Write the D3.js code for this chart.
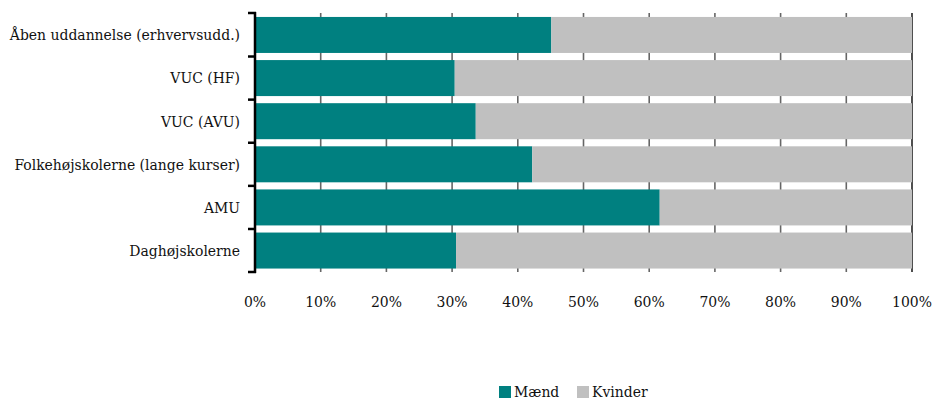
<!DOCTYPE html>
<html>
<head>
<meta charset="utf-8">
<script src="https://cdn.jsdelivr.net/npm/d3@7"></script>
<style>
  body { margin: 0; background: #fff; }
</style>
</head>
<body>
<div id="chart"></div>
<script>
// categories top to bottom
var categories = ["Åben uddannelse (erhvervsudd.)", "VUC (HF)", "VUC (AVU)",
    "Folkehøjskolerne (lange kurser)", "AMU", "Daghøjskolerne"];
// share of men in percent, women is the rest
var maend = [45.1, 30.4, 33.6, 42.2, 61.6, 30.6];
var kvinder = maend.map(function(d) { return 100 - d; });
var seriesNames = ["Mænd", "Kvinder"];
var tickValues = [0, 10, 20, 30, 40, 50, 60, 70, 80, 90, 100];

var colors = { "Mænd": "#008080", "Kvinder": "#c0c0c0" };
var font = "'DejaVu Serif Condensed', 'DejaVu Serif', serif";
var fs = "15.5px";

var width = 936, height = 400;
var svg = d3.select("#chart").append("svg")
    .attr("width", width)
    .attr("height", height)
    .style("font-family", font)
    .style("font-stretch", "condensed");

var x = d3.scaleLinear().domain([0, 100]).range([255, 912]);
var y = d3.scaleBand().domain(categories).range([13.5, 272]).paddingInner(0.165).paddingOuter(0.08);

var rows = categories.map(function(c, i) {
    return { cat: c, "Mænd": maend[i], "Kvinder": kvinder[i] };
});
var stacked = d3.stack().keys(seriesNames)(rows);

// gridlines behind the bars
svg.append("g").selectAll("line")
    .data(tickValues.slice(1))
    .enter().append("line")
    .attr("x1", function(d) { return x(d); })
    .attr("x2", function(d) { return x(d); })
    .attr("y1", 13)
    .attr("y2", 272)
    .attr("stroke", function(d) { return d == 100 ? "#222" : "#666"; })
    .attr("stroke-width", 1.6);

// bars
svg.append("g").selectAll("g")
    .data(stacked)
    .enter().append("g")
    .attr("fill", function(d) { return colors[d.key]; })
    .selectAll("rect")
    .data(function(d) { return d; })
    .enter().append("rect")
    .attr("x", function(d) { return x(d[0]); })
    .attr("width", function(d) { return x(d[1]) - x(d[0]); })
    .attr("y", function(d) { return y(d.data.cat); })
    .attr("height", y.bandwidth());

// y axis with ticks between categories
var step = y.step();
var bounds = [13];
categories.forEach(function(c) {
    bounds.push(y(c) + y.bandwidth() + (step - y.bandwidth()) / 2);
});
bounds[bounds.length - 1] = 272;

var yax = svg.append("g");
yax.append("line")
    .attr("x1", 255).attr("x2", 255)
    .attr("y1", 12).attr("y2", 273)
    .attr("stroke", "#000").attr("stroke-width", 2.5);
yax.selectAll(".tk")
    .data(bounds)
    .enter().append("line")
    .attr("x1", 248).attr("x2", 256)
    .attr("y1", function(d) { return d; })
    .attr("y2", function(d) { return d; })
    .attr("stroke", "#000").attr("stroke-width", 2.5);

svg.append("g").selectAll("text")
    .data(categories)
    .enter().append("text")
    .attr("x", 240)
    .attr("y", function(d) { return y(d) + y.bandwidth() / 2; })
    .attr("dy", "0.35em")
    .attr("text-anchor", "end")
    .attr("fill", "#111")
    .style("font-size", fs)
    .text(function(d) { return d; });

// x tick labels
svg.append("g").selectAll("text")
    .data(tickValues)
    .enter().append("text")
    .attr("x", function(d) { return x(d); })
    .attr("y", 307)
    .attr("text-anchor", "middle")
    .attr("fill", "#111")
    .style("font-size", fs)
    .text(function(d) { return d + "%"; });

// legend
var legend = svg.append("g");
var lx = [499, 577];
seriesNames.forEach(function(s, i) {
    legend.append("rect")
        .attr("x", lx[i]).attr("y", 386)
        .attr("width", 12).attr("height", 12)
        .attr("fill", colors[s]);
    legend.append("text")
        .attr("x", lx[i] + 15).attr("y", 397)
        .attr("fill", "#111")
        .style("font-size", fs)
        .text(s);
});
</script>
</body>
</html>
